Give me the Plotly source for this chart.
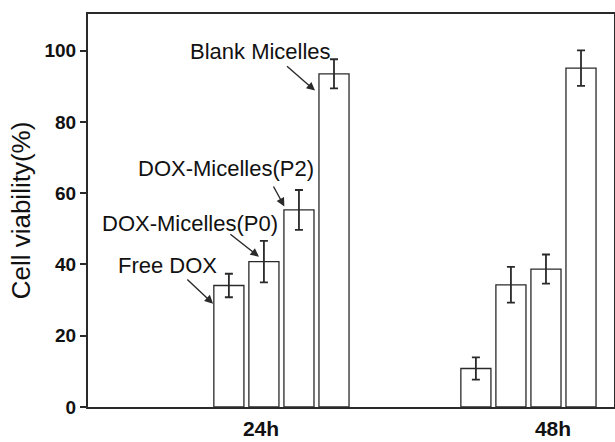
import plotly.graph_objects as go

# ---- data ----
time_points = ["24h", "48h"]
series_names = ["Free DOX", "DOX-Micelles(P0)", "DOX-Micelles(P2)", "Blank Micelles"]
free_dox = [34.1, 10.8]
free_dox_err = [3.3, 3.1]
dox_p0 = [40.8, 34.3]
dox_p0_err = [5.8, 5.0]
dox_p2 = [55.3, 38.7]
dox_p2_err = [5.6, 4.1]
blank = [93.5, 95.1]
blank_err = [4.1, 5.0]
y_ticks = [0, 20, 40, 60, 80, 100]

values = [free_dox, dox_p0, dox_p2, blank]
errors = [free_dox_err, dox_p0_err, dox_p2_err, blank_err]

# ---- layout geometry (numeric x axis; time labels at 1 and 2) ----
label_pos = [1, 2]
group_start = [0.890, 1.736]
step = 0.12
bar_w = 0.103

FONT = "Arial, 'Liberation Sans', sans-serif"
INK = "#2a2a2a"

fig = go.Figure()
for k, (name, vals, errs) in enumerate(zip(series_names, values, errors)):
    fig.add_trace(go.Bar(
        x=[g + k * step for g in group_start],
        y=vals,
        width=bar_w,
        name=name,
        marker=dict(color="white", line=dict(color=INK, width=1.3)),
        error_y=dict(type="data", array=errs, visible=True,
                     color=INK, thickness=1.8, width=4),
    ))

# arrows: (head_x, head_y, tail_x, tail_y) and labels
arrow_specs = [
    ("Free DOX", 0.836, 29.0, 0.7425, 36.2, 0.679, 39.7),
    ("DOX-Micelles(P0)", 0.993, 42.2, 0.890, 48.8, 0.756, 51.6),
    ("DOX-Micelles(P2)", 1.080, 56.3, 1.040, 62.3, 0.881, 67.0),
    ("Blank Micelles", 1.185, 88.8, 1.084, 96.0, 0.998, 99.7),
]
for text, hx, hy, tx, ty, lx, ly in arrow_specs:
    fig.add_annotation(x=hx, y=hy, ax=tx, ay=ty, xref="x", yref="y",
                       axref="x", ayref="y", text="", showarrow=True,
                       arrowhead=2, arrowsize=1.2, arrowwidth=1.4,
                       arrowcolor=INK)
    fig.add_annotation(x=lx, y=ly, xref="x", yref="y", text=text,
                       showarrow=False,
                       font=dict(family=FONT, size=22, color="#111"))

fig.update_layout(
    width=615, height=442,
    margin=dict(l=88, r=1, t=14, b=35, autoexpand=False),
    paper_bgcolor="white", plot_bgcolor="white",
    showlegend=False,
    barmode="overlay",
    font=dict(family=FONT, color="#111"),
)
fig.update_xaxes(
    range=[0.4075, 2.209], automargin=False,
    tickvals=label_pos, ticktext=time_points,
    ticks="", ticklabelstandoff=2,
    tickfont=dict(family=FONT, size=21, color="#111", weight="bold"),
    showgrid=False, zeroline=False,
    showline=True, linecolor=INK, linewidth=2, mirror=True,
)
fig.update_yaxes(
    range=[0, 110.3], automargin=False,
    tickvals=y_ticks,
    ticks="outside", ticklen=6, tickwidth=1.5, tickcolor=INK,
    tickfont=dict(family=FONT, size=19, color="#111", weight="bold"),
    showgrid=False, zeroline=False,
    showline=True, linecolor=INK, linewidth=2, mirror=True,
    title=dict(text="Cell viability(%)", standoff=6,
               font=dict(family=FONT, size=26, color="#111")),
)

fig.write_html(
    "out.html",
    config={"displayModeBar": False},
    post_script="document.body.style.margin='0';document.body.style.overflow='hidden';",
)
